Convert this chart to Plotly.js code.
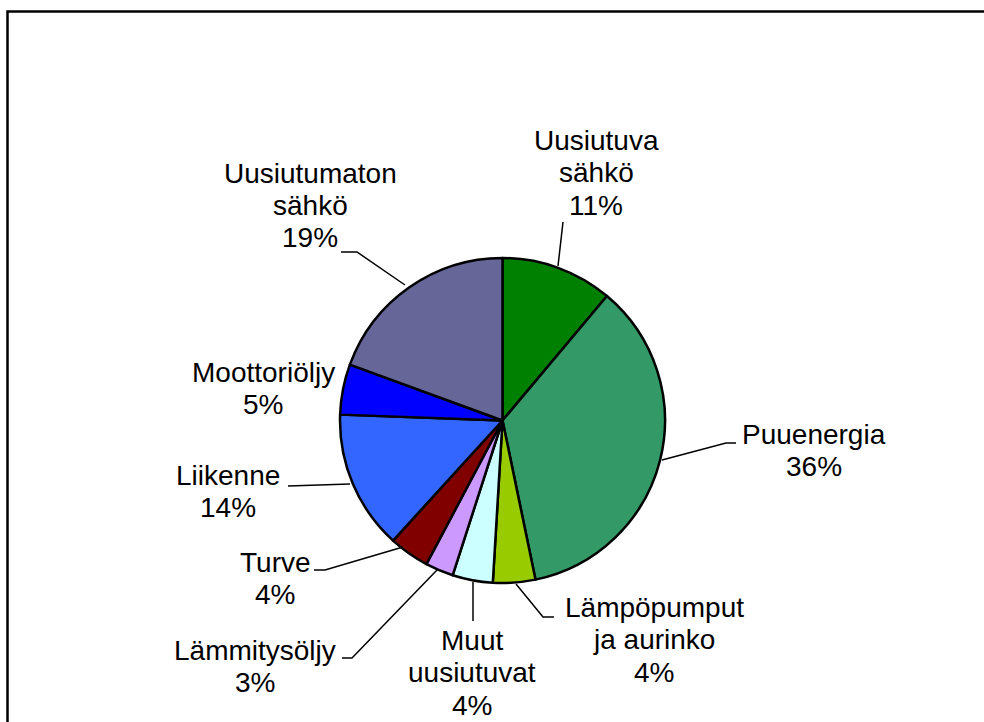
<!DOCTYPE html>
<html>
<head>
<meta charset="utf-8">
<script src="https://cdn.plot.ly/plotly-3.0.1.min.js"></script>
<style>
html,body{margin:0;padding:0;background:#fff;}
#chart{width:984px;height:722px;}
</style>
</head>
<body>
<div id="chart"></div>
<script>
// ---- data ----
const categories = ['Uusiutuva sähkö', 'Puuenergia', 'Lämpöpumput ja aurinko', 'Muut uusiutuvat',
  'Lämmitysöljy', 'Turve', 'Liikenne', 'Moottoriöljy', 'Uusiutumaton sähkö'];
const shares = [11.1, 35.6, 4.2, 4.0, 2.8, 4.0, 13.8, 5.0, 19.4];
const percentLabels = ['11%', '36%', '4%', '4%', '3%', '4%', '14%', '5%', '19%'];
const colors = ['#008000', '#339966', '#99CC00', '#CCFFFF', '#CC99FF', '#800000', '#3366FF', '#0000FF', '#666699'];

// ---- layout (pixel positions) ----
const W = 984, H = 722;
const cx = 502.5, cy = 420.5, R = 162.5;
const FONT = 28, LINE = 32.5;
// label block: center x, first baseline y
const labelPos = [
  [596, 150], [814, 444], [654, 617], [472, 650], [255, 660],
  [275, 572], [228, 485], [263, 382], [310, 183]
];
// leader lines (pixel polylines)
const leaders = [
  [[558, 266], [563, 222]],
  [[662, 460], [726, 443], [736, 443]],
  [[516, 584], [543, 617], [554, 617]],
  [[473, 582], [473, 621]],
  [[437, 570], [352, 658], [342, 658]],
  [[403, 547], [325, 570], [314, 570]],
  [[350, 484], [288, 486]],
  null,
  [[405, 285], [357, 252], [341, 252]]
];

const px = x => x / W;
const py = y => 1 - y / H;

const trace = {
  type: 'pie',
  labels: categories,
  values: shares,
  sort: false,
  direction: 'clockwise',
  rotation: 0,
  textinfo: 'none',
  hoverinfo: 'label+percent',
  marker: {colors: colors, line: {color: '#000', width: 2.5}},
  domain: {x: [px(cx - R), px(cx + R)], y: [py(cy + R), py(cy - R)]},
  showlegend: false
};

const annotations = [];
categories.forEach((c, i) => {
  const sp = c.indexOf(' ');
  const lines = sp > 0 ? [c.slice(0, sp), c.slice(sp + 1)] : [c];
  lines.push(percentLabels[i]);
  const [lx, ly] = labelPos[i];
  lines.forEach((t, k) => {
    annotations.push({
      xref: 'paper', yref: 'paper', x: px(lx), y: py(ly + k * LINE - 10),
      xanchor: 'center', yanchor: 'middle', showarrow: false, text: t,
      font: {family: 'Liberation Sans, Arial, sans-serif', size: FONT, color: '#000'}
    });
  });
});

const shapes = [{
  type: 'rect', xref: 'paper', yref: 'paper',
  x0: px(7.5), x1: px(W + 20), y0: py(H + 20), y1: py(11.5),
  line: {color: '#000', width: 2.5}, fillcolor: 'rgba(0,0,0,0)'
}];
leaders.forEach(l => {
  if (!l) return;
  const d = l.map((p, k) => (k ? 'L' : 'M') + px(p[0]) + ',' + py(p[1])).join(' ');
  shapes.push({type: 'path', xref: 'paper', yref: 'paper', path: d, line: {color: '#000', width: 1.5}});
});

const layout = {
  width: W, height: H,
  margin: {l: 0, r: 0, t: 0, b: 0},
  paper_bgcolor: '#fff',
  annotations: annotations,
  shapes: shapes,
  showlegend: false
};

Plotly.newPlot('chart', [trace], layout, {displayModeBar: false, staticPlot: true});
</script>
</body>
</html>
